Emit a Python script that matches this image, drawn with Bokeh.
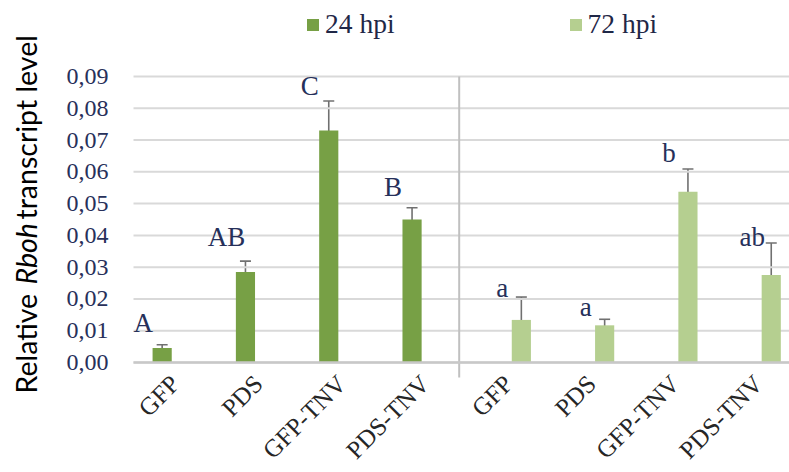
import math
from bokeh.plotting import figure
from bokeh.models import (ColumnDataSource, Whisker, TeeHead, FixedTicker, CustomJSTickFormatter,
                          Legend, LegendItem, Label)
from bokeh.core.properties import value
from bokeh.embed import file_html
from bokeh.resources import INLINE

# ---- data ----
categories = ["GFP", "PDS", "GFP-TNV", "PDS-TNV"]
groups = ["24 hpi", "72 hpi"]
mean_24 = [0.0046, 0.0285, 0.0730, 0.0450]
err_24 = [0.0010, 0.0034, 0.0093, 0.0037]
mean_72 = [0.0134, 0.0117, 0.0537, 0.0275]
err_72 = [0.0072, 0.0019, 0.0072, 0.0101]
letters_24 = ["A", "AB", "C", "B"]
letters_72 = ["a", "a", "b", "ab"]
letter_y_24 = [0.0123, 0.0394, 0.0869, 0.0552]
letter_y_72 = [0.0233, 0.0174, 0.0658, 0.0394]
y_ticks = [0.00, 0.01, 0.02, 0.03, 0.04, 0.05, 0.06, 0.07, 0.08, 0.09]
ylabel_parts = ["Relative", "Rboh", "transcript level"]
ylabel_styles = ["normal", "italic", "normal"]

# ---- layout / style ----
W, H = 789, 472
AX_L, AX_T, AX_B = 133, 76, 362        # pixel position of the value axis box
PX_CAT = 83.3                          # pixels per category
Y_MAX = y_ticks[-1]
YPP = Y_MAX / (AX_B - AX_T)            # data units per pixel
X_END = (W - AX_L) / PX_CAT
DARK = "#77a045"
LIGHT = "#b5cf90"
SERIF = "Liberation Serif"
DODGE = 0.156
BAR_W = 0.23
SEP_X = 3.91
n = len(categories)

x24 = [i + 0.5 - DODGE for i in range(n)]
x72 = [n + i + 0.5 + DODGE for i in range(n)]

src24 = ColumnDataSource(dict(x=x24, top=mean_24,
                              up=[m + e for m, e in zip(mean_24, err_24)],
                              lo=[m - e for m, e in zip(mean_24, err_24)],
                              lab=letters_24, ly=letter_y_24))
src72 = ColumnDataSource(dict(x=x72, top=mean_72,
                              up=[m + e for m, e in zip(mean_72, err_72)],
                              lo=[m - e for m, e in zip(mean_72, err_72)],
                              lab=letters_72, ly=letter_y_72))

p = figure(width=W, height=H, output_backend="svg", toolbar_location=None,
           x_range=(-AX_L / PX_CAT, X_END),
           y_range=(-(H - AX_B) * YPP, Y_MAX + AX_T * YPP),
           min_border=0)
p.outline_line_color = None
p.grid.visible = False

# horizontal gridlines at the tick values
p.segment(x0=[0] * len(y_ticks), x1=[X_END] * len(y_ticks), y0=y_ticks, y1=y_ticks,
          line_color="#d9d9d9", line_width=2)
# separator between the two time points
p.segment(x0=[SEP_X], x1=[SEP_X], y0=[-15 * YPP], y1=[Y_MAX],
          line_color="#c0c0c0", line_width=2)

r24 = p.vbar(x="x", top="top", width=BAR_W, source=src24, fill_color=DARK, line_color=None)
r72 = p.vbar(x="x", top="top", width=BAR_W, source=src72, fill_color=LIGHT, line_color=None)

for src in (src24, src72):
    w = Whisker(base="x", upper="up", lower="lo", source=src,
                line_color="#707070", line_width=1.6,
                upper_head=TeeHead(size=11, line_color="#707070", line_width=1.6),
                lower_head=TeeHead(size=11, line_color="#707070", line_width=1.6))
    p.add_layout(w)
    p.text(x="x", y="ly", text="lab", source=src, x_offset=-19,
           text_align="center", text_baseline="alphabetic",
           text_font=value(SERIF), text_font_size="27px", text_color="#26305a")

# axes fixed at zero
p.yaxis.fixed_location = 0
p.yaxis.bounds = (0, Y_MAX)
p.yaxis.ticker = FixedTicker(ticks=y_ticks)
p.yaxis.formatter = CustomJSTickFormatter(code="return tick.toFixed(2).replace('.', ',');")
p.yaxis.axis_line_color = None
p.yaxis.major_tick_line_color = None
p.yaxis.minor_tick_line_color = None
p.yaxis.major_tick_out = 0
p.yaxis.major_label_standoff = 25
p.yaxis.major_label_text_font = SERIF
p.yaxis.major_label_text_font_size = "24px"
p.yaxis.major_label_text_color = "#27305a"

p.xaxis.fixed_location = 0
p.xaxis.bounds = (0, X_END)
p.xaxis.ticker = FixedTicker(ticks=[i + 0.5 for i in range(2 * n)])
p.xaxis.major_label_overrides = {i + 0.5: lab for i, lab in enumerate(categories * 2)}
p.xaxis.major_label_orientation = math.pi / 4
p.xaxis.axis_line_color = "#c8c8c8"
p.xaxis.axis_line_width = 2.5
p.xaxis.major_tick_line_color = None
p.xaxis.minor_tick_line_color = None
p.xaxis.major_tick_out = 0
p.xaxis.major_label_standoff = 17
p.xaxis.major_label_text_font = SERIF
p.xaxis.major_label_text_font_size = "25px"
p.xaxis.major_label_text_color = "#262626"

# y-axis title, in pieces so that the gene name is italic (screen px from bottom-left)
piece_start = [79, 188, 253]
for txt, st, ys in zip(ylabel_parts, ylabel_styles, piece_start):
    p.add_layout(Label(x=25, y=ys, x_units="screen", y_units="screen", text=txt,
                       angle=math.pi / 2, text_align="left", text_baseline="middle",
                       text_font="Lato", text_font_size="28.5px", text_font_style=st,
                       text_color="#000000"))

legend = Legend(items=[LegendItem(label=groups[0], renderers=[r24]),
                       LegendItem(label=groups[1], renderers=[r72])],
                orientation="horizontal", location=(305, 432),
                glyph_width=15, glyph_height=15, spacing=173, padding=0, margin=0,
                label_standoff=5, label_text_font=SERIF, label_text_font_size="27.5px",
                label_text_color="#1f2747", border_line_color=None,
                background_fill_alpha=0)
p.add_layout(legend, "center")

open("out.html", "w").write(file_html(p, INLINE))
